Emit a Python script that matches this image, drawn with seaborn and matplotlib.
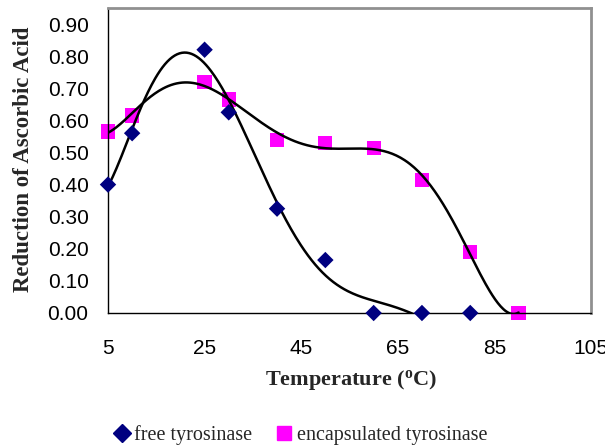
import numpy as np
import pandas as pd
import matplotlib
matplotlib.use("Agg")
import matplotlib.pyplot as plt
import seaborn as sns
from matplotlib.lines import Line2D

temp_free = [5, 10, 25, 30, 40, 50, 60, 70, 80]
free_vals = [0.40, 0.56, 0.82, 0.625, 0.325, 0.165, 0.0, 0.0, 0.0]
temp_enc = [5, 10, 25, 30, 40, 50, 60, 70, 80, 90]
enc_vals = [0.565, 0.615, 0.72, 0.665, 0.54, 0.53, 0.515, 0.415, 0.19, 0.0]
x_ticks = [5, 25, 45, 65, 85, 105]
y_ticks = [0.0, 0.1, 0.2, 0.3, 0.4, 0.5, 0.6, 0.7, 0.8, 0.9]

sns.set_theme(style="white")
plt.rcParams['font.family'] = ['Liberation Sans', 'DejaVu Sans']

fig = plt.figure(figsize=(6.05, 4.46), dpi=100)
ax = fig.add_axes([108/605, (446-313)/446, (591-108)/605, (313-8)/446])

df_free = pd.DataFrame({"t": temp_free, "v": free_vals})
df_enc = pd.DataFrame({"t": temp_enc, "v": enc_vals})

# polynomial trendlines (Excel-style, order 6)
pf = np.polyfit(df_free.t, df_free.v, 6)
xf = np.linspace(min(temp_free), max(temp_free), 300)
pe = np.polyfit(df_enc.t, df_enc.v, 6)
xe = np.linspace(min(temp_enc), max(temp_enc), 300)
sns.lineplot(x=xf, y=np.polyval(pf, xf), ax=ax, color="black", lw=1.8, zorder=3)
sns.lineplot(x=xe, y=np.polyval(pe, xe), ax=ax, color="black", lw=1.8, zorder=3)

sns.scatterplot(data=df_enc, x="t", y="v", ax=ax, marker="s", s=105, color="#FF00FF",
                edgecolor="none", zorder=2, clip_on=False)
sns.scatterplot(data=df_free, x="t", y="v", ax=ax, marker="D", s=70, color="#000080",
                edgecolor="none", zorder=4, clip_on=False)

ax.set_xlim(5, 105)
ax.set_ylim(0, 0.95)
ax.set_xticks(x_ticks)
ax.set_yticks(y_ticks)
ax.set_yticklabels([f"{v:.2f}" for v in y_ticks])
ax.tick_params(axis='both', labelsize=15, colors='black', direction='out', width=1)
ax.tick_params(axis='x', pad=15, length=3.6)
ax.tick_params(axis='y', pad=9, length=5)

for s in ['left', 'bottom']:
    ax.spines[s].set_color('black')
    ax.spines[s].set_linewidth(1)
for s in ['top', 'right']:
    ax.spines[s].set_color('#909090')
    ax.spines[s].set_linewidth(2)

ax.set_xlabel("Temperature ($\\mathregular{^{o}}$C)", fontsize=16, fontweight='bold',
              family='Liberation Serif')
ax.set_ylabel("Reduction of Ascorbic Acid", fontsize=16.5, fontweight='bold',
              family='Liberation Serif')
ax.xaxis.set_label_coords(0.503, -0.18)
ax.yaxis.set_label_coords(-0.153, 0.505)

handles = [Line2D([], [], marker='D', color='#000080', ls='none', markersize=9),
           Line2D([], [], marker='s', color='#FF00FF', ls='none', markersize=10)]
fig.legend(handles, ["free tyrosinase", "encapsulated tyrosinase"], loc='center',
           bbox_to_anchor=(300/605, 1 - 435/446), ncol=2, frameon=False,
           prop={'family': 'Liberation Serif', 'size': 14.5}, handletextpad=0.15,
           columnspacing=1.15, handlelength=0.9)

fig.savefig("out.png", dpi=100)
